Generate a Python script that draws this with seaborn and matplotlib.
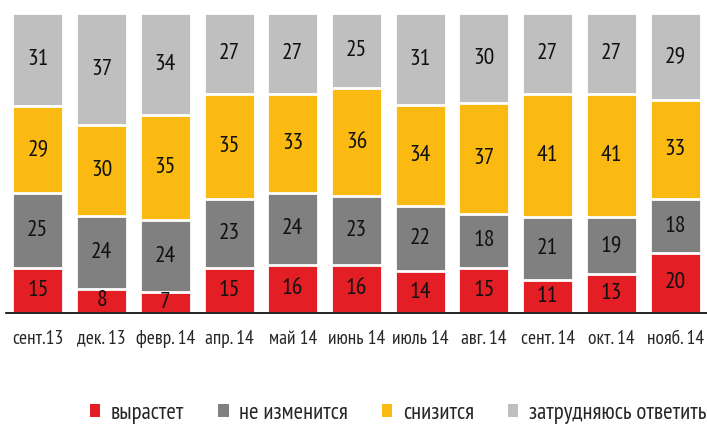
import numpy as np
import pandas as pd
import matplotlib
matplotlib.use("Agg")
import matplotlib.pyplot as plt
from matplotlib.patches import Patch
import seaborn as sns

periods = ["сент.13", "дек. 13", "февр. 14", "апр. 14", "май 14", "июнь 14",
           "июль 14", "авг. 14", "сент. 14", "окт. 14", "нояб. 14"]
grow = [15, 8, 7, 15, 16, 16, 14, 15, 11, 13, 20]
same = [25, 24, 24, 23, 24, 23, 22, 18, 21, 19, 18]
fall = [29, 30, 35, 35, 33, 36, 34, 37, 41, 41, 33]
unsure = [31, 37, 34, 27, 27, 25, 31, 30, 27, 27, 29]

series_names = ["вырастет", "не изменится", "снизится", "затрудняюсь ответить"]
colors = ["#E31E24", "#808080", "#FBBA12", "#BFBFBF"]

sns.set_style("white")
plt.rcParams['font.family'] = ['PT Sans Narrow', 'DejaVu Sans']

df = pd.DataFrame({"period": periods, "grow": grow, "same": same,
                   "fall": fall, "unsure": unsure})
cols = ["grow", "same", "fall", "unsure"]
# 100% stacked: scale each column to its total
share = df[cols].div(df[cols].sum(axis=1), axis=0) * 100
cum = share.cumsum(axis=1)

fig = plt.figure(figsize=(7.07, 4.26), dpi=100)
ax = fig.add_axes([6 / 707, 113 / 426, 701 / 707, 300 / 426])

# draw cumulative bars from the top layer down so they look stacked
for col, color in reversed(list(zip(cols, colors))):
    sns.barplot(x=df["period"], y=cum[col], color=color, width=0.8,
                edgecolor="white", linewidth=2.0, saturation=1, ax=ax)

# value labels
for i in range(len(periods)):
    bottom = 0
    for col in cols:
        h = share.loc[i, col]
        ax.text(i, bottom + h / 2, str(df.loc[i, col]), ha="center", va="center",
                fontsize=17, color="#111111")
        bottom += h

ax.set_xlim(-0.5, len(periods) - 0.5)
ax.set_ylim(0, 100)
ax.set_xlabel("")
ax.set_ylabel("")
ax.set_yticks([])
for s in ["top", "right", "left"]:
    ax.spines[s].set_visible(False)
ax.spines["bottom"].set_color("black")
ax.spines["bottom"].set_linewidth(1.2)
ax.set_xticks(range(len(periods)))
ax.set_xticklabels(periods, fontsize=14)
ax.set_xticks(np.arange(-0.5, len(periods)), minor=True)
ax.tick_params(axis="x", which="major", length=0, pad=12)
ax.tick_params(axis="x", which="minor", length=7, width=1.2, direction="out")

handles = [Patch(facecolor=c, edgecolor="none") for c in colors]
fig.legend(handles, series_names, loc="center", bbox_to_anchor=(0.563, 0.03),
           ncol=4, frameon=False, fontsize=16.5, handlelength=0.45,
           handleheight=0.45, handletextpad=0.45, columnspacing=1.5)

fig.savefig("out.png", dpi=100)
